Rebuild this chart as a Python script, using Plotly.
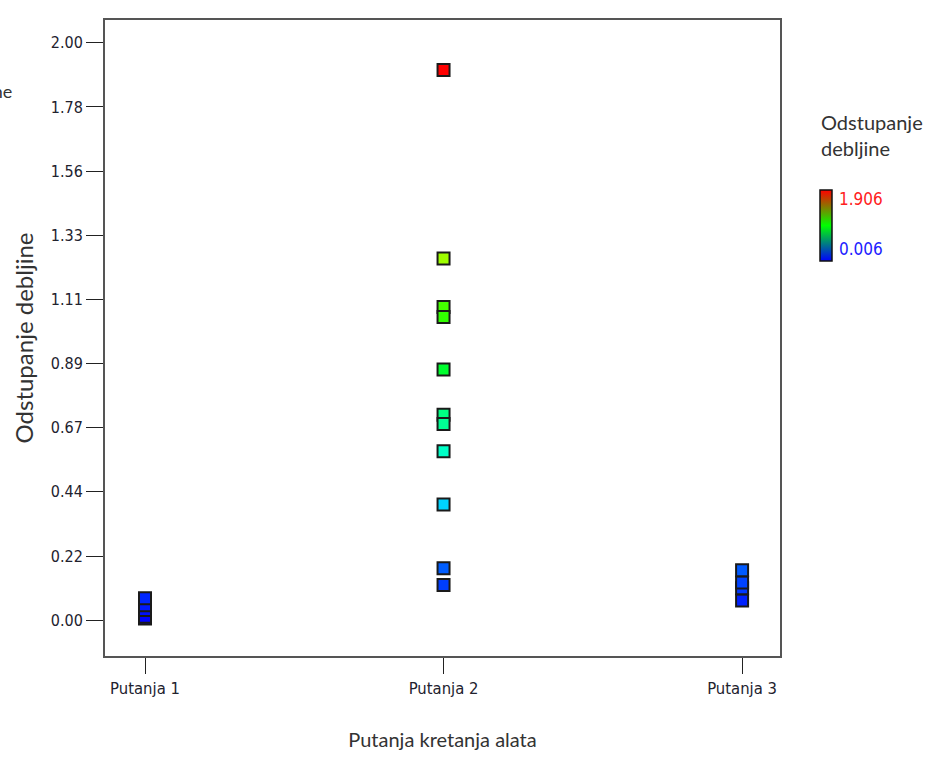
import plotly.graph_objects as go

# ---- data ----
categories = ["Putanja 1", "Putanja 2", "Putanja 3"]
putanja1 = [0.006, 0.012, 0.035, 0.052, 0.076]
putanja2 = [1.906, 1.253, 1.085, 1.050, 0.868, 0.712, 0.680, 0.585, 0.401, 0.180, 0.122]
putanja3 = [0.068, 0.111, 0.131, 0.173]
y_ticks = [0, 2/9, 4/9, 6/9, 8/9, 10/9, 12/9, 14/9, 16/9, 2.0]
y_tick_labels = ["0.00", "0.22", "0.44", "0.67", "0.89", "1.11", "1.33", "1.56", "1.78", "2.00"]
color_min, color_max = 0.006, 1.906

xs, ys = [], []
for i, vals in enumerate([putanja1, putanja2, putanja3]):
    for v in vals:
        xs.append(i + 1)
        ys.append(v)

rainbow = [[0.0, "rgb(0,0,255)"], [0.25, "rgb(0,255,255)"], [0.5, "rgb(0,255,0)"],
           [0.75, "rgb(255,255,0)"], [1.0, "rgb(255,0,0)"]]
legend_scale = [[0.0, "rgb(0,0,255)"], [0.5, "rgb(0,255,0)"], [1.0, "rgb(255,0,0)"]]

W, H = 935, 760
ml, mr, mt, mb = 105, 155, 20, 102
pw, ph = W - ml - mr, H - mt - mb

narrow = "Liberation Sans Narrow, Arial Narrow, DejaVu Sans Condensed, sans-serif"
humanist = "Lato, Open Sans, sans-serif"

fig = go.Figure()
fig.add_trace(go.Scatter(
    x=xs, y=ys, mode="markers",
    marker=dict(symbol="square", size=12, color=ys, colorscale=rainbow,
                cmin=color_min, cmax=color_max, showscale=False,
                line=dict(color="#1a1a1a", width=2)),
    showlegend=False, hoverinfo="x+y",
))

def px_x(p):
    return (p - ml) / pw

def px_y(p):
    return (H - mb - p) / ph

# dummy trace only for the colour legend bar
fig.add_trace(go.Scatter(
    x=[None, None], y=[None, None], mode="markers", showlegend=False,
    marker=dict(color=[color_min, color_max], colorscale=legend_scale,
                cmin=color_min, cmax=color_max, showscale=True,
                colorbar=dict(x=px_x(820), xanchor="left", xpad=0,
                              y=px_y(226), yanchor="middle", ypad=0,
                              len=71, lenmode="pixels", thickness=12,
                              thicknessmode="pixels",
                              outlinecolor="#111", outlinewidth=1.5,
                              showticklabels=False, ticks="")),
))

fig.update_layout(
    width=W, height=H,
    margin=dict(l=ml, r=mr, t=mt, b=mb),
    paper_bgcolor="white", plot_bgcolor="white",
    xaxis=dict(range=[0.866, 3.127], tickvals=[1, 2, 3], ticktext=categories,
               showgrid=False, zeroline=False, showline=True, mirror=True,
               linecolor="#555", linewidth=2, ticks="outside", ticklen=16,
               tickwidth=1.2, tickcolor="#222",
               tickfont=dict(family=narrow, size=16.5, color="#22222e"),
               title=dict(text="Putanja kretanja alata", standoff=36,
                          font=dict(family=humanist, size=20, color="#333"))),
    yaxis=dict(range=[-0.124, 2.079], tickvals=y_ticks, ticktext=y_tick_labels,
               showgrid=False, zeroline=False, showline=True, mirror=True,
               linecolor="#555", linewidth=2, ticks="outside", ticklen=17,
               tickwidth=1.2, tickcolor="#222",
               tickfont=dict(family=narrow, size=16, color="#22222e"),
               title=dict(text="Odstupanje debljine", standoff=10,
                          font=dict(family=humanist, size=24, color="#333"))),
    annotations=[
        dict(text="Odstupanje<br>debljine", xref="paper", yref="paper",
             x=px_x(819), y=px_y(108), xanchor="left", yanchor="top",
             align="left", showarrow=False,
             font=dict(family=humanist, size=20, color="#333")),
        dict(text="1.906", xref="paper", yref="paper",
             x=px_x(837), y=px_y(200), xanchor="left", yanchor="middle",
             showarrow=False, font=dict(family=narrow, size=17, color="#ff2020")),
        dict(text="0.006", xref="paper", yref="paper",
             x=px_x(837), y=px_y(250), xanchor="left", yanchor="middle",
             showarrow=False, font=dict(family=narrow, size=17, color="#2020ff")),
        dict(text="Odstupanje debljine", xref="paper", yref="paper",
             x=px_x(14), y=px_y(91), xanchor="right", yanchor="middle",
             showarrow=False, font=dict(family=humanist, size=18, color="#333")),
    ],
)

fig.write_html("out.html", config={"displayModeBar": False},
               post_script="document.body.style.margin='0';document.body.style.padding='0';")
